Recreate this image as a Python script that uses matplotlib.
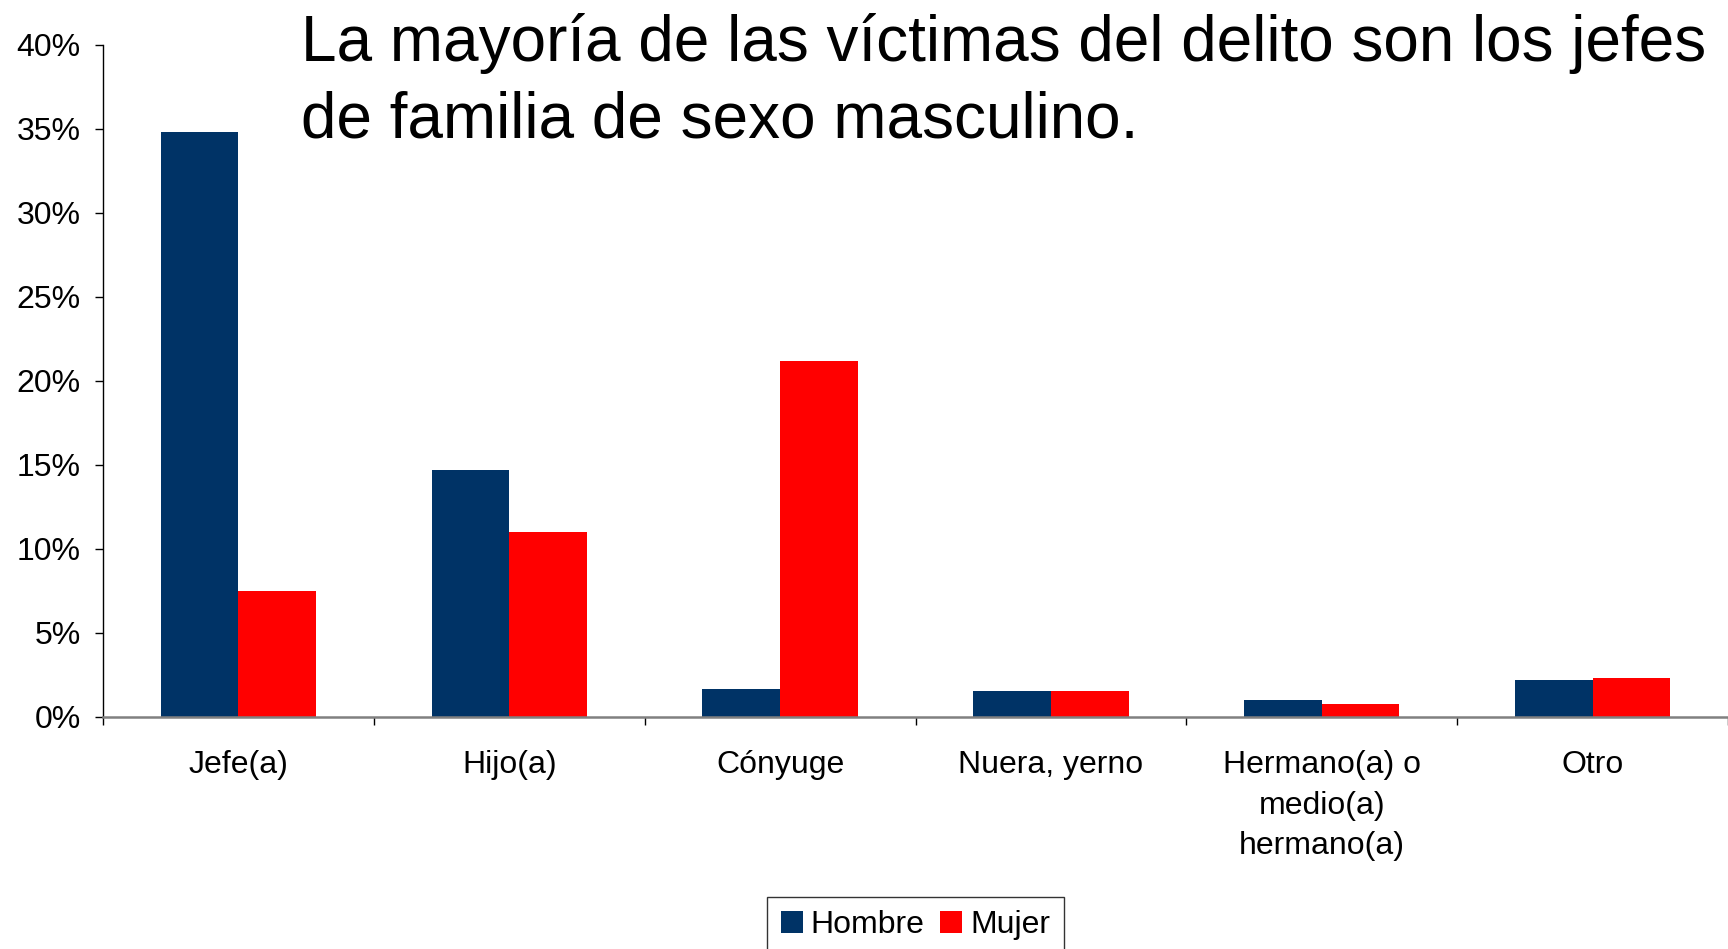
import matplotlib
matplotlib.use("Agg")
import matplotlib.pyplot as plt
import numpy as np

plt.rcParams['font.family'] = ['Liberation Sans', 'DejaVu Sans']

categories = ["Jefe(a)", "Hijo(a)", "Cónyuge", "Nuera, yerno",
              "Hermano(a) o\nmedio(a)\nhermano(a)", "Otro"]
hombre = [34.8, 14.7, 1.65, 1.55, 1.0, 2.2]
mujer = [7.5, 11.0, 21.2, 1.55, 0.8, 2.3]
series_names = ["Hombre", "Mujer"]
yticks = [0, 5, 10, 15, 20, 25, 30, 35, 40]
ytick_labels = ["0%", "5%", "10%", "15%", "20%", "25%", "30%", "35%", "40%"]
title_lines = ["La mayoría de las víctimas del delito son los jefes",
               "de familia de sexo masculino."]

W, H = 1728, 949
fig = plt.figure(figsize=(W / 100, H / 100), dpi=100)
ax = fig.add_axes([103 / W, 1 - 717 / H, 1 - 103 / W, (717 - 45) / H])

navy = '#003366'
red = '#FF0000'
bw = 0.287
centers = np.arange(len(categories)) + 0.5
ax.bar(centers - bw / 2, hombre, width=bw, color=navy, label=series_names[0], zorder=2)
ax.bar(centers + bw / 2, mujer, width=bw, color=red, label=series_names[1], zorder=2)

ax.set_xlim(0, len(categories))
ax.set_ylim(0, 40)

# spines
for s in ['top', 'right']:
    ax.spines[s].set_visible(False)
ax.spines['left'].set_color('black')
ax.spines['left'].set_linewidth(1.0)
ax.spines['bottom'].set_color('#808080')
ax.spines['bottom'].set_linewidth(1.8)
ax.spines['bottom'].set_zorder(3)

# y ticks
ax.set_yticks(yticks)
ax.set_yticklabels(ytick_labels)
ax.tick_params(axis='y', direction='out', length=6, width=1, pad=10,
               labelsize=23, colors='black')

# x ticks: major at boundaries (no labels), minor at centers with labels
ax.set_xticks(np.arange(0, len(categories) + 1))
ax.set_xticklabels([])
ax.set_xticks(centers, minor=True)
ax.set_xticklabels(categories, minor=True, fontsize=23, linespacing=1.45)
ax.tick_params(axis='x', which='major', direction='out', length=6, width=1, color='black')
ax.tick_params(axis='x', which='minor', length=0, pad=24)

# title
fig.text(301 / W, 1 - 61 / H, title_lines[0], fontsize=46, va='baseline', ha='left')
fig.text(301 / W, 1 - 137 / H, title_lines[1], fontsize=46, va='baseline', ha='left')

# legend
leg = fig.legend(loc='upper center', bbox_to_anchor=(915.5 / W, 1 - 897 / H),
                 ncol=2, fontsize=23, frameon=True, fancybox=False,
                 handlelength=0.68, handleheight=0.68, handletextpad=0.25,
                 columnspacing=0.5, borderpad=0.42, borderaxespad=0)
leg.get_frame().set_edgecolor('black')
leg.get_frame().set_linewidth(1.0)

fig.savefig("out.png", dpi=100)
